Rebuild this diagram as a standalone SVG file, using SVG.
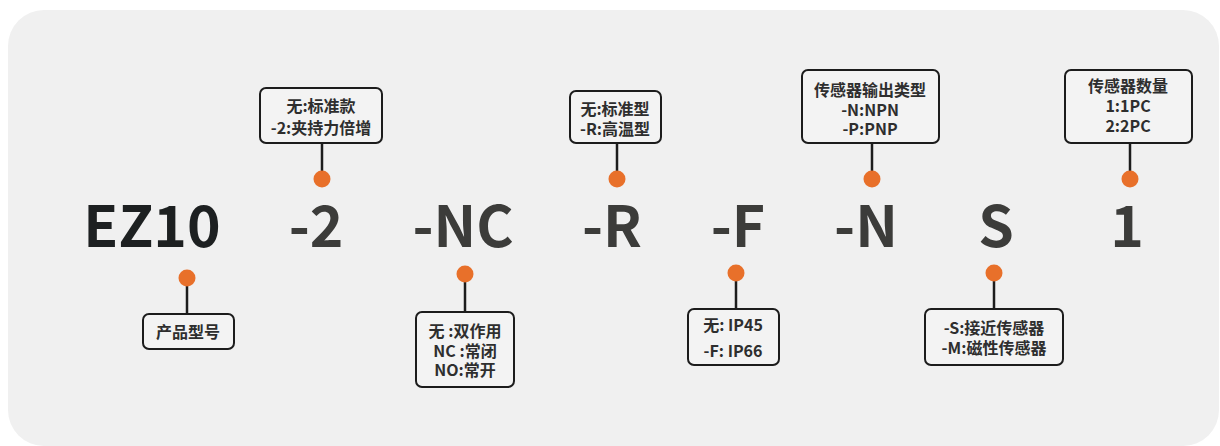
<svg xmlns="http://www.w3.org/2000/svg" width="1220" height="446" viewBox="0 0 1220 446">
<style>
.big{font-family:"Noto Sans CJK SC","Noto Sans",sans-serif;font-weight:700;font-size:57px;fill:#3c3c3a;text-anchor:middle}
.lbl{font-family:"Noto Sans CJK SC","Noto Sans",sans-serif;font-weight:700;font-size:16px;fill:#2e2e2e;text-anchor:middle}
.box{fill:#f3f3f3;stroke:#1c1c1c;stroke-width:2}
.dot{fill:#e8702a}
.ln{stroke:#1c1c1c;stroke-width:2.5;fill:none}
</style>
<rect x="8" y="10" width="1211" height="436" rx="36" fill="#f0f0f0"/>
<g id="codes">
<text class="big" x="152" y="247" style="fill:#1d2021">EZ10</text>
<text class="big" x="316" y="247">-2</text>
<text class="big" x="463" y="247">-NC</text>
<text class="big" x="612" y="247">-R</text>
<text class="big" x="738" y="247">-F</text>
<text class="big" x="866" y="247">-N</text>
<text class="big" x="996" y="247">S</text>
<text class="big" x="1127" y="247">1</text>
</g>
<g id="connectors">
<line class="ln" x1="322" y1="143" x2="322" y2="172"/>
<line class="ln" x1="617" y1="143" x2="617" y2="172"/>
<line class="ln" x1="872" y1="143" x2="872" y2="172"/>
<line class="ln" x1="1130" y1="143" x2="1130" y2="172"/>
<line class="ln" x1="187" y1="285" x2="187" y2="314"/>
<line class="ln" x1="465" y1="281" x2="465" y2="312"/>
<line class="ln" x1="736" y1="280" x2="736" y2="309"/>
<line class="ln" x1="994" y1="280" x2="994" y2="309"/>
<circle class="dot" cx="322" cy="179" r="8.5"/>
<circle class="dot" cx="617" cy="179" r="8.5"/>
<circle class="dot" cx="872" cy="179" r="8.5"/>
<circle class="dot" cx="1130" cy="179" r="8.5"/>
<circle class="dot" cx="187" cy="278" r="8.5"/>
<circle class="dot" cx="465" cy="274" r="8.5"/>
<circle class="dot" cx="736" cy="273" r="8.5"/>
<circle class="dot" cx="994" cy="273" r="8.5"/>
</g>
<g id="n-2">
<rect class="box" x="260" y="88" width="122" height="55" rx="6"/>
<text class="lbl" x="321" y="112">无:标准款</text>
<text class="lbl" x="321" y="134">-2:夹持力倍增</text>
</g>
<g id="n-R">
<rect class="box" x="570" y="91" width="91" height="52" rx="6"/>
<text class="lbl" x="615" y="115">无:标准型</text>
<text class="lbl" x="615" y="135">-R:高温型</text>
</g>
<g id="n-N">
<rect class="box" x="802" y="70" width="137" height="73" rx="6"/>
<text class="lbl" x="870" y="96">传感器输出类型</text>
<text class="lbl" x="870" y="116">-N:NPN</text>
<text class="lbl" x="870" y="135">-P:PNP</text>
</g>
<g id="n-1">
<rect class="box" x="1065" y="70" width="127" height="73" rx="6"/>
<text class="lbl" x="1128" y="92">传感器数量</text>
<text class="lbl" x="1128" y="112">1:1PC</text>
<text class="lbl" x="1128" y="132">2:2PC</text>
</g>
<g id="n-EZ10">
<rect class="box" x="143" y="314" width="91" height="35" rx="6"/>
<text class="lbl" x="188" y="338">产品型号</text>
</g>
<g id="n-NC">
<rect class="box" x="416" y="312" width="98" height="75" rx="6"/>
<text class="lbl" x="465" y="337">无 :双作用</text>
<text class="lbl" x="465" y="357">NC :常闭</text>
<text class="lbl" x="465" y="376">NO:常开</text>
</g>
<g id="n-F">
<rect class="box" x="688" y="309" width="91" height="56" rx="6"/>
<text class="lbl" x="733" y="331">无: IP45</text>
<text class="lbl" x="733" y="357">-F: IP66</text>
</g>
<g id="n-S">
<rect class="box" x="925" y="309" width="138" height="56" rx="6"/>
<text class="lbl" x="994" y="334">-S:接近传感器</text>
<text class="lbl" x="994" y="354">-M:磁性传感器</text>
</g>
</svg>
